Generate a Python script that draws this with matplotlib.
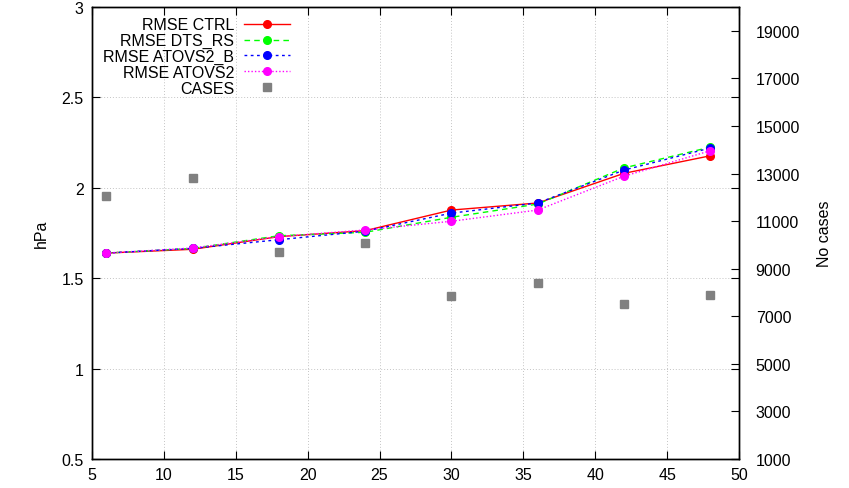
import matplotlib.pyplot as plt

plt.rcParams['font.family'] = ['Liberation Sans', 'DejaVu Sans']
plt.rcParams['font.size'] = 11.5

# forecast range (h)
steps = [6, 12, 18, 24, 30, 36, 42, 48]

rmse_ctrl = [1.639, 1.660, 1.730, 1.763, 1.877, 1.916, 2.080, 2.177]
rmse_dts_rs = [1.639, 1.665, 1.735, 1.754, 1.837, 1.910, 2.110, 2.225]
rmse_atovs2_b = [1.639, 1.665, 1.713, 1.760, 1.860, 1.916, 2.098, 2.220]
rmse_atovs2 = [1.639, 1.667, 1.730, 1.767, 1.815, 1.877, 2.064, 2.205]

cases = [12070, 12810, 9690, 10090, 7870, 8400, 7500, 7880]

fig = plt.figure(figsize=(8.49, 4.89), dpi=100)
ax = fig.add_axes([0.1084, 0.0593, 0.7620, 0.9243])
ax2 = ax.twinx()

l1, = ax.plot(steps, rmse_ctrl, color='#ff0000', lw=1.0, ls='-', marker='o', ms=5.5)
l2, = ax.plot(steps, rmse_dts_rs, color='#00ff00', lw=1.0, ls=(0, (4, 3)), marker='o', ms=5.5)
l3, = ax.plot(steps, rmse_atovs2_b, color='#0000ff', lw=1.0, ls=(0, (2, 2.5)), marker='o', ms=5.5)
l4, = ax.plot(steps, rmse_atovs2, color='#ff00ff', lw=1.0, ls=(0, (1, 1.5)), marker='o', ms=5.5)
s1, = ax2.plot(steps, cases, ls='none', marker='s', color='#808080', ms=5.5)

ax.set_xlim(5, 50)
ax.set_ylim(0.5, 3)
ax.set_xticks(range(5, 51, 5))
ax.set_yticks([0.5, 1, 1.5, 2, 2.5, 3])
ax.set_yticklabels(['0.5', '1', '1.5', '2', '2.5', '3'])
ax2.set_ylim(1000, 20000)
ax2.set_yticks(range(1000, 20000, 2000))

ax.grid(True, color='#c4c4c4', ls=(0, (1, 2)), lw=0.7)
ax.tick_params(direction='in', length=6, width=0.8, top=True, right=True, pad=6)
ax2.tick_params(direction='in', length=6, width=0.8, pad=12)

ax.set_ylabel('hPa', labelpad=9)
ax2.set_ylabel('No cases', labelpad=12)

for a in (ax, ax2):
    for sp in a.spines.values():
        sp.set_linewidth(1.0)

ax2.legend([l1, l2, l3, l4, s1],
           ['RMSE CTRL', 'RMSE DTS_RS', 'RMSE ATOVS2_B', 'RMSE ATOVS2', 'CASES'],
           loc='upper left', bbox_to_anchor=(0.0, 1.002), frameon=False,
           markerfirst=False, handlelength=2.9, labelspacing=0.05,
           handletextpad=0.6, borderaxespad=0.3)
for t in ax2.get_legend().get_texts():
    t.set_ha('right')

fig.savefig('out.png', dpi=100)
